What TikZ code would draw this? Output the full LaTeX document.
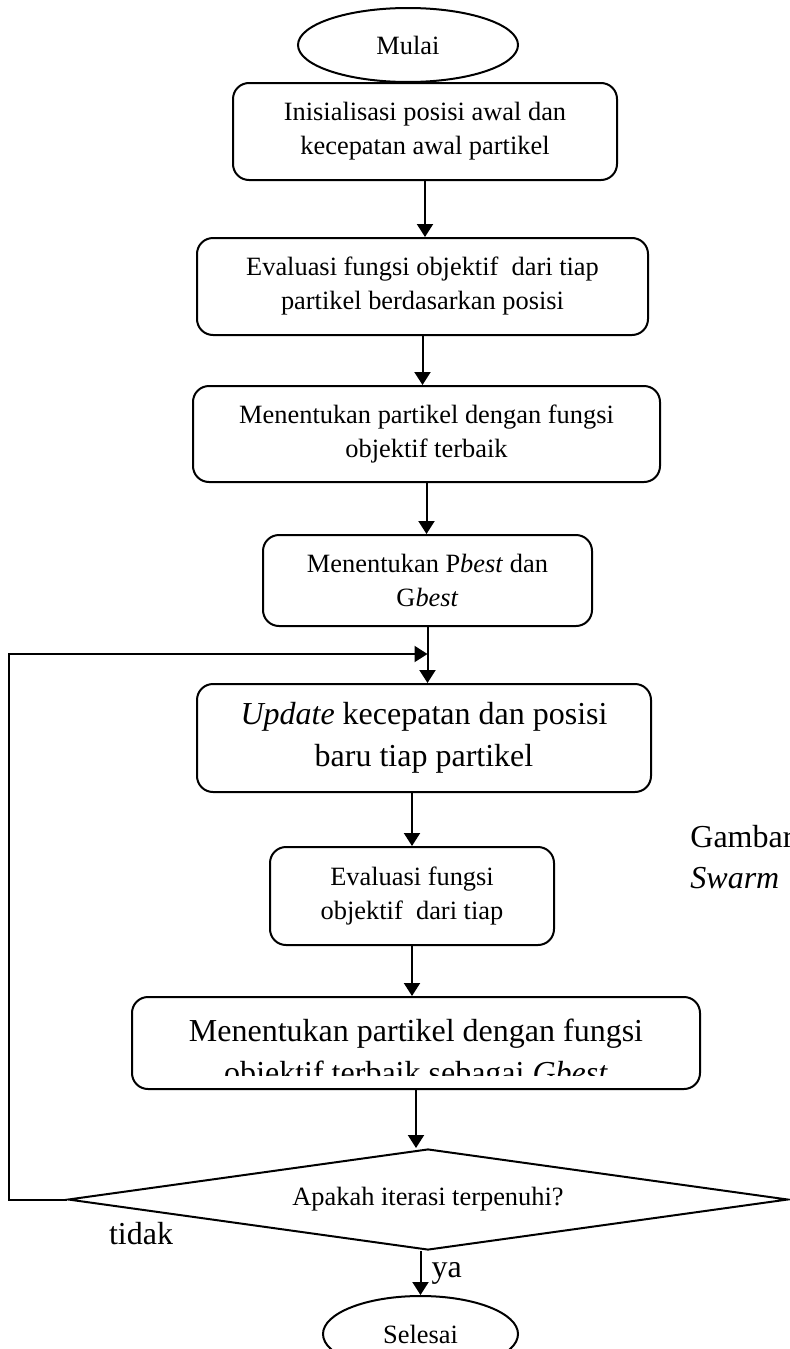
\documentclass[tikz,border=0pt]{standalone}
\usepackage{fontspec}
\setmainfont{Liberation Serif}
\usepackage{tikz}
\usetikzlibrary{positioning, shapes.geometric, arrows.meta}

\begin{document}
\begin{tikzpicture}[x=0.5pt, y=-0.5pt,
  every node/.style={font=\fontsize{13.2}{17}\selectfont},
  term/.style={draw, ellipse, line width=1pt, inner sep=0pt, minimum width=110pt, minimum height=37pt},
  stepbox/.style={draw, rounded corners=8pt, line width=1pt, align=center, inner sep=0pt},
  bigtext/.style={font=\fontsize{16}{21}\selectfont},
  decision/.style={draw, diamond, aspect=7, line width=1pt, inner sep=0pt, minimum width=360pt, minimum height=50.5pt},
  arr/.style={-{Triangle[length=6.5pt, width=8pt]}, line width=1pt}]

\useasboundingbox (0,0) rectangle (790,1349);

% Start and steps
\node[term] (start) at (408,45) {Mulai};
\node[stepbox, minimum width=192pt, minimum height=48.5pt] (init) [below=-0.5pt of start, xshift=8.5pt] {Inisialisasi posisi awal dan\\kecepatan awal partikel};
\node[stepbox, minimum width=225.5pt, minimum height=48.5pt] (evalA) [below=28pt of init, xshift=-1.25pt] {Evaluasi fungsi objektif\ \ dari tiap\\partikel berdasarkan posisi};
\node[stepbox, minimum width=233.5pt, minimum height=48pt] (best) [below=24.5pt of evalA, xshift=2pt] {Menentukan partikel dengan fungsi\\objektif terbaik};
\node[stepbox, minimum width=164.5pt, minimum height=45.5pt] (pg) [below=25.5pt of best, xshift=0.5pt] {Menentukan P\textit{best} dan\\G\textit{best}};
\node[stepbox, bigtext, minimum width=227pt, minimum height=54pt] (upd) [below=28pt of pg, xshift=-1.75pt] {\textit{Update} kecepatan dan posisi\\baru tiap partikel};
\node[stepbox, minimum width=142pt, minimum height=49pt] (evalB) [below=26.5pt of upd, xshift=-6pt] {Evaluasi fungsi\\objektif\ \ dari tiap};
\node[stepbox, minimum width=284pt, minimum height=46pt] (gbest) [below=25pt of evalB, xshift=2pt] {};
\begin{scope}
\clip (gbest.north west) rectangle ([yshift=7.5pt]gbest.south east);
\node[bigtext, align=center, inner sep=0pt] (gbesttext) at ([yshift=-5.75pt]gbest.center) {Menentukan partikel dengan fungsi\\objektif terbaik sebagai \textit{Gbest}};
\end{scope}

% Decision and end
\node[decision] (check) [below=29pt of gbest, xshift=6pt] {Apakah iterasi terpenuhi?};
\node[term, minimum width=97.5pt, minimum height=38pt] (stop) [below=22pt of check, xshift=-3.75pt] {Selesai};

% Labels
\node[bigtext] (no) at (141,1234) {tidak};
\node[bigtext, anchor=base west, inner sep=0pt] (fig) at (690,847) {Gambar};
\node[bigtext, anchor=base west, inner sep=0pt] (figb) at (690,888) {\textit{Swarm}};

% Connecting lines
\draw[arr] (init.south) -- (init.south |- evalA.north);
\draw[arr] (evalA.south) -- (evalA.south |- best.north);
\draw[arr] (best.south) -- (best.south |- pg.north);
\draw[arr] (pg.south) -- (pg.south |- upd.north);
\draw[arr] (evalB.north |- upd.south) -- (evalB.north);
\draw[arr] (evalB.south) -- (evalB.south |- gbest.north);
\draw[arr] (gbest.south) -- (gbest.south |- check.north);
\draw[arr] (stop.north |- check.south) -- node[right, bigtext, inner sep=5pt] (yes) {ya} (stop.north);

% Loop back
\coordinate (join) at ([yshift=-13.5pt]pg.south);
\draw[arr] (check.west) -- ++(-29pt,0) |- (join);

\end{tikzpicture}
\end{document}
